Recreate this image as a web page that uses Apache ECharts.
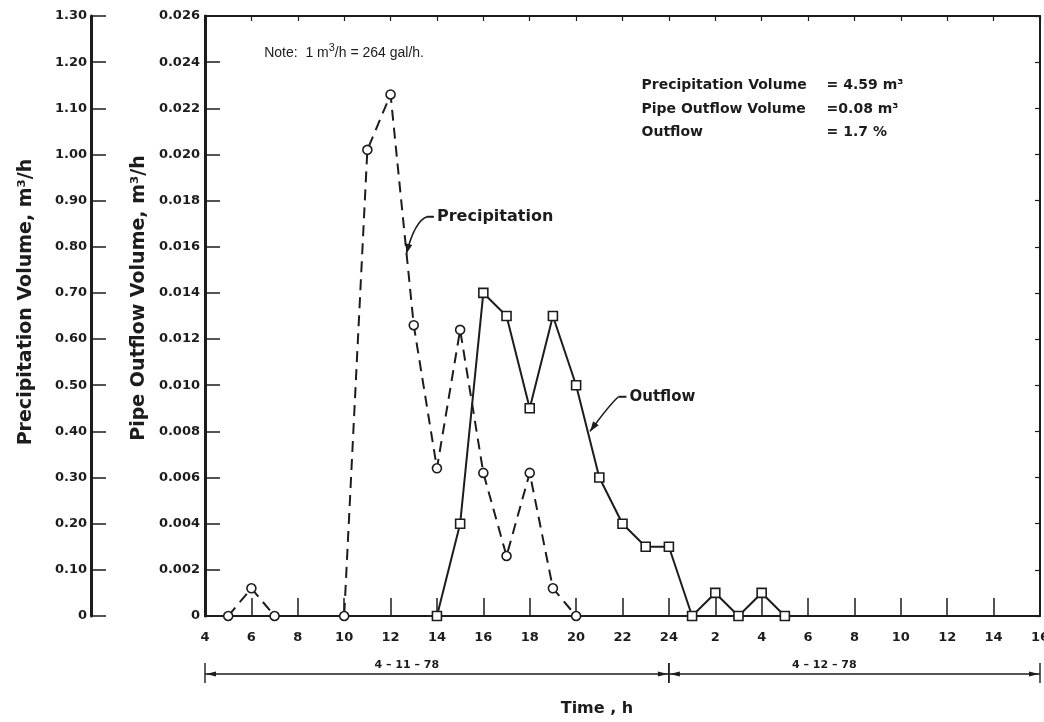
<!DOCTYPE html>
<html>
<head>
<meta charset="utf-8">
<script src="https://cdn.jsdelivr.net/npm/echarts@6/dist/echarts.min.js"></script>
<style>
  html, body { margin: 0; padding: 0; background: #ffffff; }
  #chart { width: 1044px; height: 722px; }
</style>
</head>
<body>
<div id="chart"></div>
<script>
// Elapsed clock hours counted from midnight of 4-11-78 (25 = 01:00 on 4-12-78)
const precipHours  = [5, 6, 7, 10, 11, 12, 13, 14, 15, 16, 17, 18, 19, 20];
const precipValues = [0, 0.06, 0, 0, 1.01, 1.13, 0.63, 0.32, 0.62, 0.31, 0.13, 0.31, 0.06, 0]; // m3/h

const outflowHours  = [14, 15, 16, 17, 18, 19, 20, 21, 22, 23, 24, 25, 26, 27, 28, 29];
const outflowValues = [0, 0.004, 0.014, 0.013, 0.009, 0.013, 0.010, 0.006, 0.004, 0.003, 0.003, 0, 0.001, 0, 0.001, 0]; // m3/h

const xTickLabels = ['4', '6', '8', '10', '12', '14', '16', '18', '20', '22', '24',
                     '2', '4', '6', '8', '10', '12', '14', '16'];

const summaryLines = [
  ['Precipitation Volume', '= 4.59 m\u00B3'],
  ['Pipe Outflow Volume', '=0.08 m\u00B3'],
  ['Outflow', '= 1.7 %']
];

const INK = '#1c1c1c';
const TICK_FONT = { fontFamily: 'DejaVu Sans', fontWeight: 'bold', fontSize: 13, color: INK };

const pair = (xs, ys) => xs.map((x, i) => [x, ys[i]]);

const chart = echarts.init(document.getElementById('chart'), null, { renderer: 'canvas' });

chart.setOption({
  animation: false,
  backgroundColor: '#ffffff',
  grid: { left: 205, right: 4, top: 16, bottom: 106, show: false, containLabel: false, outerBoundsMode: 'none' },
  xAxis: [
    {
      type: 'value', position: 'bottom', min: 4, max: 40, interval: 2,
      axisLine: { show: true, lineStyle: { color: INK, width: 2 } },
      axisTick: { show: true, inside: true, length: 18, lineStyle: { color: INK, width: 1.5 } },
      axisLabel: Object.assign({ margin: 15, showMaxLabel: true, hideOverlap: false,
        formatter: v => xTickLabels[Math.round((v - 4) / 2)] }, TICK_FONT),
      splitLine: { show: false }
    },
    {
      type: 'value', position: 'top', min: 4, max: 40, interval: 2,
      axisLine: { show: true, onZero: false, lineStyle: { color: INK, width: 2 } },
      axisTick: { show: true, inside: true, length: 5, lineStyle: { color: INK, width: 1.2 } },
      axisLabel: { show: false },
      splitLine: { show: false }
    }
  ],
  yAxis: [
    {
      type: 'value', position: 'left', min: 0, max: 0.026, interval: 0.002,
      axisLine: { show: true, onZero: false, lineStyle: { color: INK, width: 3 } },
      axisTick: { show: true, inside: true, length: 15, lineStyle: { color: INK, width: 1.5 } },
      axisLabel: Object.assign({ margin: 5, formatter: v => v === 0 ? '0' : v.toFixed(3) }, TICK_FONT),
      splitLine: { show: false }
    },
    {
      type: 'value', position: 'left', offset: 114, min: 0, max: 1.3, interval: 0.1,
      axisLine: { show: true, onZero: false, lineStyle: { color: INK, width: 3 } },
      axisTick: { show: true, inside: true, length: 15, lineStyle: { color: INK, width: 1.5 } },
      axisLabel: Object.assign({ margin: 4, formatter: v => v === 0 ? '0' : v.toFixed(2) }, TICK_FONT),
      splitLine: { show: false }
    },
    {
      type: 'value', position: 'right', min: 0, max: 0.026, interval: 0.002,
      axisLine: { show: true, onZero: false, lineStyle: { color: INK, width: 2 } },
      axisTick: { show: true, inside: true, length: 5, lineStyle: { color: INK, width: 1.2 } },
      axisLabel: { show: false },
      splitLine: { show: false }
    }
  ],
  series: [
    {
      name: 'Precipitation', type: 'line', xAxisIndex: 0, yAxisIndex: 1,
      data: pair(precipHours, precipValues),
      showSymbol: true, showAllSymbol: true, symbol: 'circle', symbolSize: 9,
      lineStyle: { color: INK, width: 2, type: [11, 7] },
      itemStyle: { color: '#ffffff', borderColor: INK, borderWidth: 1.6 },
      z: 3
    },
    {
      name: 'Outflow', type: 'line', xAxisIndex: 0, yAxisIndex: 0,
      data: pair(outflowHours, outflowValues),
      showSymbol: true, showAllSymbol: true, symbol: 'rect', symbolSize: 9,
      lineStyle: { color: INK, width: 2 },
      itemStyle: { color: '#ffffff', borderColor: INK, borderWidth: 1.6 },
      z: 4
    }
  ]
});

// Pixel position of an (hour, outflow-axis value) pair
const px = (h, v) => chart.convertToPixel({ xAxisIndex: 0, yAxisIndex: 0 }, [h, v]);

// Filled arrowhead pointing from p0 to p1, tip at p1
function arrowHead(p0, p1, len, half) {
  const dx = p1[0] - p0[0], dy = p1[1] - p0[1];
  const d = Math.hypot(dx, dy), ux = dx / d, uy = dy / d;
  const bx = p1[0] - ux * len, by = p1[1] - uy * len;
  return {
    type: 'polygon',
    shape: { points: [p1, [bx - uy * half, by + ux * half], [bx + uy * half, by - ux * half]] },
    style: { fill: INK }
  };
}

// Curved leader line with arrowhead
function leader(start, knee, ctrl, tip) {
  return [
    { type: 'polyline', shape: { points: [start, knee] }, style: { stroke: INK, lineWidth: 2, fill: null } },
    { type: 'bezierCurve', shape: { x1: knee[0], y1: knee[1], x2: tip[0], y2: tip[1], cpx1: ctrl[0], cpy1: ctrl[1] },
      style: { stroke: INK, lineWidth: 1.6, fill: null } },
    arrowHead(ctrl, tip, 10, 3.5)
  ];
}

const bold = (size) => ({ fontFamily: 'DejaVu Sans', fontWeight: 'bold', fontSize: size, fill: INK });

const graphics = [];

// Series callouts
const pLabel = px(14.0, 0.0173);
graphics.push({ type: 'text', x: pLabel[0], y: pLabel[1],
  style: Object.assign({ text: 'Precipitation', align: 'left', verticalAlign: 'middle' }, bold(16)) });
graphics.push(...leader([pLabel[0] - 3, pLabel[1]], [pLabel[0] - 10, pLabel[1]],
  [pLabel[0] - 22, pLabel[1] + 4], px(12.68, 0.0157)));

const oLabel = px(22.3, 0.0095);
graphics.push({ type: 'text', x: oLabel[0], y: oLabel[1],
  style: Object.assign({ text: 'Outflow', align: 'left', verticalAlign: 'middle' }, bold(15)) });
graphics.push(...leader([oLabel[0] - 3, oLabel[1]], [oLabel[0] - 11, oLabel[1]],
  [oLabel[0] - 20, oLabel[1] + 8], px(20.6, 0.0080)));

// Conversion note with a raised cube exponent
const note = px(6.55, 0.0245);
graphics.push({ type: 'text', x: note[0], y: note[1],
  style: {
    text: '{t|Note:  1 m}{s|3}{t|/h = 264 gal/h.}',
    align: 'left', verticalAlign: 'middle',
    rich: {
      t: { fontFamily: 'Liberation Sans', fontSize: 14, fill: INK, verticalAlign: 'bottom', height: 18 },
      s: { fontFamily: 'Liberation Sans', fontSize: 11, fill: INK, verticalAlign: 'top', height: 18, padding: [0, 0, 6, 0] }
    }
  } });

// Volume summary
summaryLines.forEach((row, i) => {
  const a = px(22.82, 0.0230 - i * 0.00103);
  const b = px(30.8, 0.0230 - i * 0.00103);
  graphics.push({ type: 'text', x: a[0], y: a[1],
    style: Object.assign({ text: row[0], align: 'left', verticalAlign: 'middle' }, bold(14)) });
  graphics.push({ type: 'text', x: b[0], y: b[1],
    style: Object.assign({ text: row[1], align: 'left', verticalAlign: 'middle' }, bold(14)) });
});

// Axis titles
graphics.push({ type: 'text', x: 26, y: 302, rotation: Math.PI / 2,
  style: Object.assign({ text: 'Precipitation Volume, m\u00B3/h', align: 'center', verticalAlign: 'middle' }, bold(19)) });
graphics.push({ type: 'text', x: 139, y: 298, rotation: Math.PI / 2,
  style: Object.assign({ text: 'Pipe Outflow Volume, m\u00B3/h', align: 'center', verticalAlign: 'middle' }, bold(19)) });
graphics.push({ type: 'text', x: px(20.9, 0)[0], y: 709,
  style: Object.assign({ text: 'Time , h', align: 'center', verticalAlign: 'middle' }, bold(16)) });

// Date spans under the time axis
const spanY = 674;
function dateSpan(h0, h1, hLabel, text) {
  const x0 = px(h0, 0)[0], x1 = px(h1, 0)[0], xl = px(hLabel, 0)[0];
  graphics.push({ type: 'line', shape: { x1: x0, y1: spanY, x2: x1, y2: spanY }, style: { stroke: INK, lineWidth: 1.4 } });
  graphics.push({ type: 'line', shape: { x1: x0, y1: spanY - 11, x2: x0, y2: spanY + 9 }, style: { stroke: INK, lineWidth: 1.4 } });
  graphics.push({ type: 'line', shape: { x1: x1, y1: spanY - 11, x2: x1, y2: spanY + 9 }, style: { stroke: INK, lineWidth: 1.4 } });
  graphics.push(arrowHead([x0 + 20, spanY], [x0 + 1, spanY], 10, 2.5));
  graphics.push(arrowHead([x1 - 20, spanY], [x1 - 1, spanY], 10, 2.5));
  graphics.push({ type: 'text', x: xl, y: spanY - 9,
    style: { text: text, fontFamily: 'DejaVu Sans', fontWeight: 'bold', fontSize: 11, fill: INK,
             align: 'center', verticalAlign: 'middle' } });
}
dateSpan(4, 24, 12.7, '4 \u2013 11 \u2013 78');
dateSpan(24, 40, 30.7, '4 \u2013 12 \u2013 78');

chart.setOption({ graphic: graphics });
</script>
</body>
</html>
